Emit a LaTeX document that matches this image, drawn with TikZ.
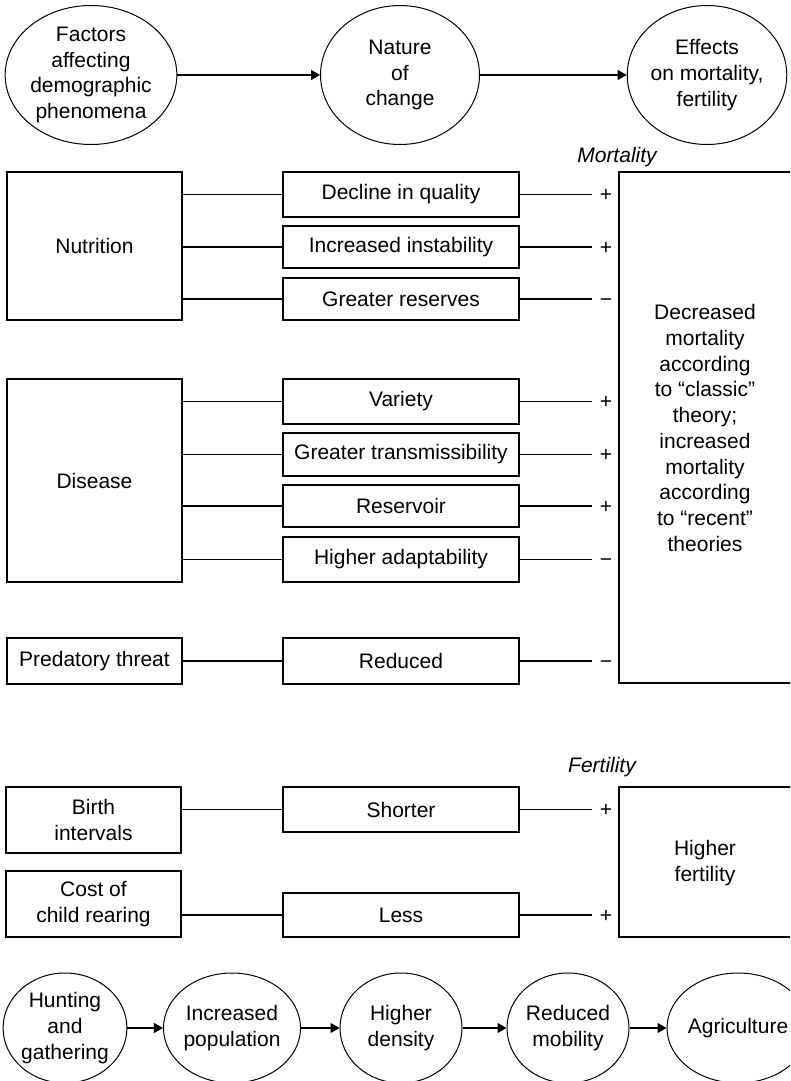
\documentclass[tikz,border=0pt]{standalone}
\usepackage{fontspec}
\setmainfont{Liberation Sans}
\usetikzlibrary{shapes.geometric,arrows.meta}
\tikzset{
  base/.style={font=\fontsize{21}{25.7}\selectfont, align=center, inner sep=0pt},
  bx/.style={base, draw, line width=1.1pt, rectangle},
  lbox/.style={bx, minimum width=175pt},
  mbox/.style={bx, minimum width=236pt},
  ell/.style={base, draw, line width=1pt, ellipse},
  topell/.style={ell, minimum width=159pt, minimum height=139pt},
  botell/.style={ell, minimum width=122pt, minimum height=110pt},
  sgn/.style={base, anchor=base},
  link/.style={line width=1.1pt},
  arr/.style={line width=1.1pt, -{Triangle[length=9pt,width=10pt]}},
  lab/.style={base, font=\fontsize{21}{25.7}\selectfont\itshape}
}
\begin{document}
\begin{tikzpicture}[x=1pt,y=-1pt]
\useasboundingbox (0,0) rectangle (790,1081);
\clip (0,0) rectangle (790,1081);

% top row
\node[topell] (f) at (91,75) {Factors\\affecting\\demographic\\phenomena};
\node[topell] (n) at (400,75) {Nature\\of\\change};
\node[topell] (e) at (707,75) {Effects\\on mortality,\\fertility};
\draw[arr] (f) -- (n);
\draw[arr] (n) -- (e);

% mortality
\node[lab] (mlab) at (617,157) {Mortality};
\node[lbox, minimum height=148pt] (nut) at (94.5,246) {Nutrition};
\node[lbox, minimum height=203pt] (dis) at (94.5,480.5) {Disease};
\node[lbox, minimum height=46pt] (pred) at (94.5,661) {Predatory threat};

\node[mbox, minimum height=45pt] (dq) at (401,194.5) {Decline in quality};
\node[mbox, minimum height=42pt] (ii) at (401,247) {Increased instability};
\node[mbox, minimum height=42pt] (gr) at (401,299) {Greater reserves};
\node[mbox, minimum height=45pt] (va) at (401,401.5) {Variety};
\node[mbox, minimum height=43pt] (gt) at (401,454.5) {Greater transmissibility};
\node[mbox, minimum height=42pt] (re) at (401,506) {Reservoir};
\node[mbox, minimum height=45pt] (ha) at (401,559.5) {Higher adaptability};
\node[mbox, minimum height=46pt] (rd) at (401,661) {Reduced};

\node[bx, minimum width=190pt, minimum height=511pt] (dm) at (714,427.5) {};
\node[base] (dmt) at (705,428) {Decreased\\mortality\\according\\to “classic”\\theory;\\increased\\mortality\\according\\to “recent”\\theories};

\foreach \m/\l/\s/\g in {dq/nut/s1/+, ii/nut/s2/+, gr/nut/s3/−, va/dis/s4/+, gt/dis/s5/+, re/dis/s6/+, ha/dis/s7/−, rd/pred/s8/−}{
  \coordinate (\s e) at (\m.east -| 592,0);
  \node[sgn] (\s) at ([xshift=14pt,yshift=-7pt]\s e) {\g};
  \draw[link] (\m.west) -- (\m.west -| \l.east);
  \draw[link] (\m.east) -- (\s e);
}

% fertility
\node[lab] (flab) at (602,767) {Fertility};
\node[lbox, minimum height=66pt] (bi) at (93.5,820) {Birth\\intervals};
\node[lbox, minimum height=66pt] (cc) at (93.5,904) {Cost of\\child rearing};
\node[mbox, minimum height=45pt] (sh) at (401,809.5) {Shorter};
\node[mbox, minimum height=44pt] (ls) at (401,915) {Less};
\node[bx, minimum width=190pt, minimum height=150pt] (hf) at (714,862) {};
\node[base] (hft) at (705,863) {Higher\\fertility};
\coordinate (s9e) at (sh.east -| 592,0);
\coordinate (s10e) at (ls.east -| 592,0);
\node[sgn] (s9) at ([xshift=14pt,yshift=-7pt]s9e) {+};
\node[sgn] (s10) at ([xshift=14pt,yshift=-7pt]s10e) {+};
\draw[link] (sh.west) -- (sh.west -| bi.east);
\draw[link] (sh.east) -- (s9e);
\draw[link] (ls.west) -- (ls.west -| cc.east);
\draw[link] (ls.east) -- (s10e);

% bottom row
\node[botell] (h) at (65,1028) {Hunting\\and\\gathering};
\node[botell] (ip) at (232,1028) {Increased\\population};
\node[botell] (hd) at (401,1028) {Higher\\density};
\node[botell] (rm) at (568,1028) {Reduced\\mobility};
\node[botell] (ag) at (738,1028) {Agriculture};
\draw[arr] (h) -- (ip);
\draw[arr] (ip) -- (hd);
\draw[arr] (hd) -- (rm);
\draw[arr] (rm) -- (ag);
\end{tikzpicture}
\end{document}
